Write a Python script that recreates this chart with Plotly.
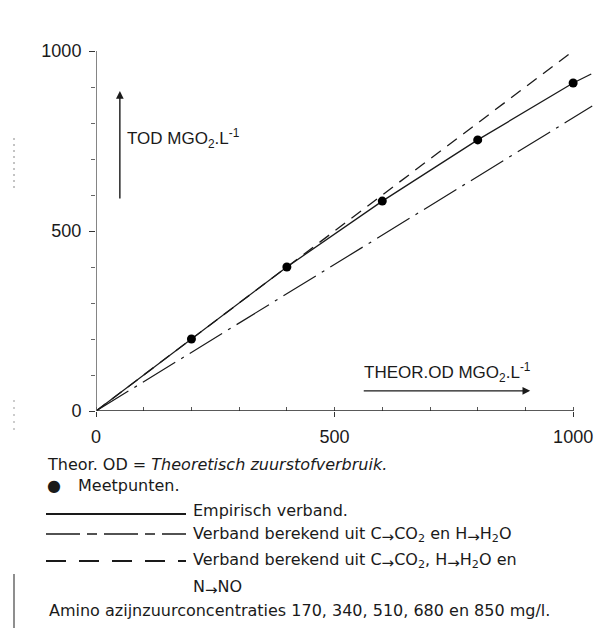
import plotly.graph_objects as go

# ---------------- data ----------------
theor_od = [200, 400, 600, 800, 1000]           # Theor. OD mg O2/l (x)
tod_meet = [200, 400, 583, 753, 911]            # measured TOD (Meetpunten)

emp_x = [0, 200, 400, 600, 800, 1000, 1038]     # Empirisch verband
emp_y = [0, 200, 400, 583, 753, 911, 936]

co2_x = [0, 1040]                               # C->CO2 en H->H2O
co2_y = [0, 847]

no_x = [0, 1000]                                # C->CO2, H->H2O en N->NO
no_y = [0, 1000]

tick_vals = [0, 500, 1000]
tick_text = ["0", "500", "1000"]

# ---------------- layout constants ----------------
W, H = 612, 628
L, R, T, B = 88, 23, 43, 225
PW = W - L - R
PH = H - T - B
FONT = "Liberation Sans"
LEG = "DejaVu Sans"
INK = "#1a1a1a"


def px(xp):
    return (xp - L) / PW


def py(yp):
    return (H - B - yp) / PH


ARROW = '<sub><span style="font-size:15px">→</span></sub>'

fig = go.Figure()

fig.add_trace(go.Scatter(x=no_x, y=no_y, mode="lines",
                         line=dict(color=INK, width=1.3, dash="12px,8px"),
                         hoverinfo="skip", showlegend=False))
fig.add_trace(go.Scatter(x=co2_x, y=co2_y, mode="lines",
                         line=dict(color=INK, width=1.2, dash="38px,7px,3px,7px"),
                         hoverinfo="skip", showlegend=False))
fig.add_trace(go.Scatter(x=emp_x, y=emp_y, mode="lines",
                         line=dict(color=INK, width=1.3),
                         hoverinfo="skip", showlegend=False))
fig.add_trace(go.Scatter(x=theor_od, y=tod_meet, mode="markers",
                         marker=dict(color="black", size=9),
                         hoverinfo="skip", showlegend=False))

shapes = []
# axis lines
shapes.append(dict(type="line", xref="x", yref="y", x0=0, x1=1000, y0=0, y1=0,
                   line=dict(color="#222", width=1.5)))
shapes.append(dict(type="line", xref="x", yref="y", x0=0, x1=0, y0=0, y1=1000,
                   line=dict(color="#666", width=1.6)))


# legend line samples
def sample(yp, dash, width=1.6):
    shapes.append(dict(type="line", xref="paper", yref="paper",
                       x0=px(38), x1=px(178), y0=py(yp), y1=py(yp),
                       line=dict(color=INK, width=width, dash=dash)))


sample(506, "solid", 1.8)
sample(526, "34px,7px,10px,7px")
sample(553, "20px,13px", 2.2)

# scan artefacts at the left margin
shapes.append(dict(type="line", xref="paper", yref="paper", x0=px(6), x1=px(6),
                   y0=py(566), y1=py(628), line=dict(color="#444", width=1.2)))
shapes.append(dict(type="line", xref="paper", yref="paper", x0=px(6), x1=px(6),
                   y0=py(130), y1=py(182), line=dict(color="#888", width=1, dash="2px,4px")))
shapes.append(dict(type="line", xref="paper", yref="paper", x0=px(6), x1=px(6),
                   y0=py(392), y1=py(425), line=dict(color="#999", width=1, dash="2px,5px")))

annotations = []
# axis arrows
annotations.append(dict(x=50, y=889, ax=50, ay=586, xref="x", yref="y", axref="x", ayref="y",
                        text="", showarrow=True, arrowhead=2, arrowsize=1.1,
                        arrowwidth=1.4, arrowcolor=INK))
annotations.append(dict(x=910, y=56, ax=558, ay=56, xref="x", yref="y", axref="x", ayref="y",
                        text="", showarrow=True, arrowhead=2, arrowsize=1.1,
                        arrowwidth=1.4, arrowcolor=INK))
annotations.append(dict(x=61, y=758, xref="x", yref="y", xanchor="left", yanchor="middle",
                        text="TOD MGO<sub>2</sub>.L<sup>-1</sup>", showarrow=False,
                        font=dict(family=FONT, size=17, color=INK)))
annotations.append(dict(x=558, y=108, xref="x", yref="y", xanchor="left", yanchor="middle",
                        text="THEOR.OD MGO<sub>2</sub>.L<sup>-1</sup>", showarrow=False,
                        font=dict(family=FONT, size=17, color=INK)))


# legend / caption texts
def txt(xp, yp, s, size=16, family=LEG):
    annotations.append(dict(x=px(xp), y=py(yp), xref="paper", yref="paper",
                            xanchor="left", yanchor="middle", text=s, showarrow=False,
                            font=dict(family=family, size=size, color=INK)))


txt(37, 456, "Theor. OD = <i>Theoretisch zuurstofverbruik.</i>")
txt(37, 477, "●", size=16)
txt(68, 477, "Meetpunten.")
txt(183, 503, "Empirisch verband.")
txt(183, 527, "Verband berekend uit C" + ARROW + "CO<sub>2</sub> en H" + ARROW + "H<sub>2</sub>O")
txt(183, 553, "Verband berekend uit C" + ARROW + "CO<sub>2</sub>, H" + ARROW + "H<sub>2</sub>O en")
txt(183, 580, "N" + ARROW + "NO")
txt(39, 602, "Amino azijnzuurconcentraties 170, 340, 510, 680 en 850 mg/l.")

fig.update_layout(
    width=W, height=H,
    margin=dict(l=L, r=R, t=T, b=B, pad=0),
    paper_bgcolor="white", plot_bgcolor="white",
    shapes=shapes, annotations=annotations,
    xaxis=dict(range=[0, 1050], showline=False, showgrid=False, zeroline=False,
               tickmode="array", tickvals=tick_vals, ticktext=tick_text,
               ticks="outside", ticklen=5, tickwidth=1.2, tickcolor="#333",
               minor=dict(dtick=100, ticks="inside", ticklen=4, tickwidth=1, tickcolor="#555"),
               ticklabelstandoff=4,
               tickfont=dict(family=FONT, size=18, color=INK)),
    yaxis=dict(range=[0, 1000], showline=False, showgrid=False, zeroline=False,
               tickmode="array", tickvals=tick_vals, ticktext=tick_text,
               ticks="outside", ticklen=6, tickwidth=1.2, tickcolor="#333",
               minor=dict(dtick=100, ticks="outside", ticklen=4, tickwidth=1, tickcolor="#666"),
               ticklabelstandoff=4,
               tickfont=dict(family=FONT, size=18, color=INK)),
)

fig.write_html("out.html")
